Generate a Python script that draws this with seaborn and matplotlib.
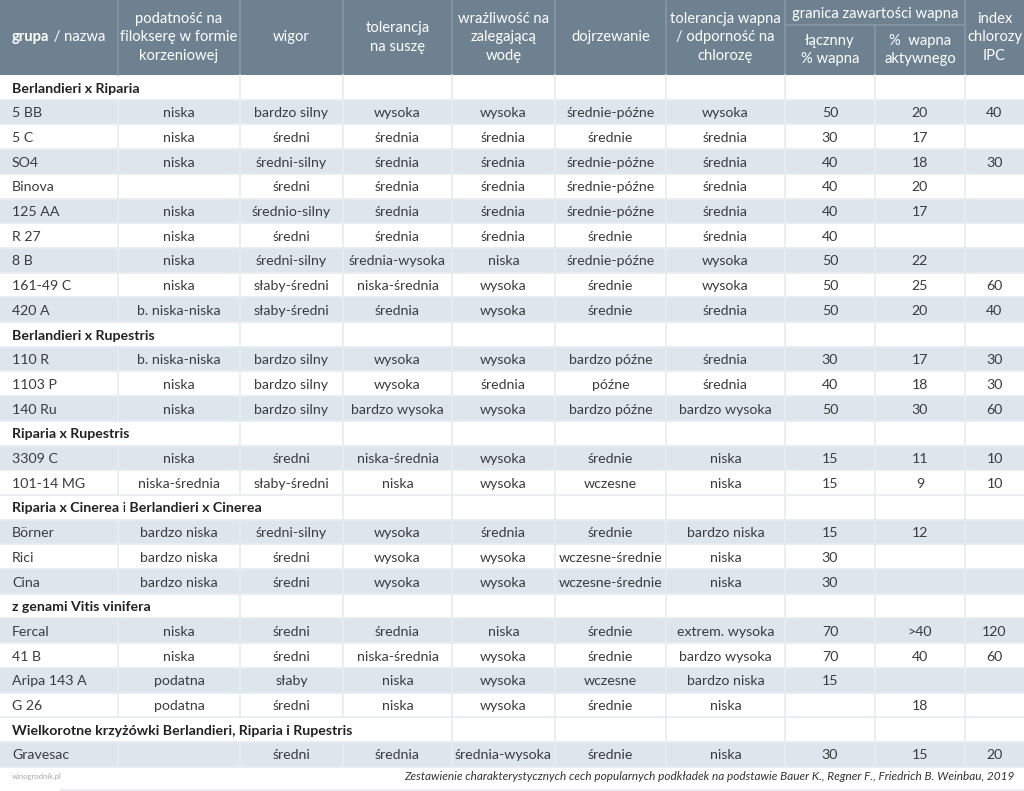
import matplotlib
matplotlib.use("Agg")
import matplotlib.pyplot as plt
import seaborn as sns
import pandas as pd
import numpy as np

# ---------------- data ----------------
header_labels = ["podatność na\nfilokserę w formie\nkorzeniowej", "wigor", "tolerancja\nna suszę",
                 "wrażliwość na\nzalegającą\nwodę", "dojrzewanie", "tolerancja wapna\n/ odporność na\nchlorozę"]
lime_group_label = "granica zawartości wapna"
lime_sub_labels = ["łącznny\n% wapna", "%  wapna\naktywnego"]
ipc_label = "index\nchlorozy\nIPC"

group_names = [
    [("Berlandieri x Riparia", "bold")],
    [("Berlandieri x Rupestris", "bold")],
    [("Riparia x Rupestris", "bold")],
    [("Riparia x Cinerea", "bold"), (" i", "normal"), (" Berlandieri x Cinerea", "bold")],
    [("z genami Vitis vinifera", "bold")],
    [("Wielkorotne krzyżówki Berlandieri, Riparia i Rupestris", "bold")],
]
group_sizes = [9, 3, 2, 3, 4, 1]
group_spans = [2, 2, 2, 3, 2, 4]

rootstocks = ["5 BB", "5 C", "SO4", "Binova", "125 AA", "R 27", "8 B", "161-49 C", "420 A",
              "110 R", "1103 P", "140 Ru",
              "3309 C", "101-14 MG",
              "Börner", "Rici", "Cina",
              "Fercal", "41 B", "Aripa 143 A", "G 26",
              "Gravesac"]
phylloxera = ["niska", "niska", "niska", "", "niska", "niska", "niska", "niska", "b. niska-niska",
              "b. niska-niska", "niska", "niska",
              "niska", "niska-średnia",
              "bardzo niska", "bardzo niska", "bardzo niska",
              "niska", "niska", "podatna", "podatna",
              ""]
vigor = ["bardzo silny", "średni", "średni-silny", "średni", "średnio-silny", "średni", "średni-silny",
         "słaby-średni", "słaby-średni",
         "bardzo silny", "bardzo silny", "bardzo silny",
         "średni", "słaby-średni",
         "średni-silny", "średni", "średni",
         "średni", "średni", "słaby", "średni",
         "średni"]
drought = ["wysoka", "średnia", "średnia", "średnia", "średnia", "średnia", "średnia-wysoka",
           "niska-średnia", "średnia",
           "wysoka", "wysoka", "bardzo wysoka",
           "niska-średnia", "niska",
           "wysoka", "wysoka", "wysoka",
           "średnia", "niska-średnia", "niska", "niska",
           "średnia"]
waterlog = ["wysoka", "średnia", "średnia", "średnia", "średnia", "średnia", "niska", "wysoka", "wysoka",
            "wysoka", "średnia", "wysoka",
            "wysoka", "wysoka",
            "średnia", "wysoka", "wysoka",
            "niska", "wysoka", "wysoka", "wysoka",
            "średnia-wysoka"]
ripening = ["średnie-późne", "średnie", "średnie-późne", "średnie-późne", "średnie-późne", "średnie",
            "średnie-późne", "średnie", "średnie",
            "bardzo późne", "późne", "bardzo późne",
            "średnie", "wczesne",
            "średnie", "wczesne-średnie", "wczesne-średnie",
            "średnie", "średnie", "wczesne", "średnie",
            "średnie"]
lime_tolerance = ["wysoka", "średnia", "średnia", "średnia", "średnia", "średnia", "wysoka", "wysoka",
                  "średnia",
                  "średnia", "średnia", "bardzo wysoka",
                  "niska", "niska",
                  "bardzo niska", "niska", "niska",
                  "extrem. wysoka", "bardzo wysoka", "bardzo niska", "niska",
                  "niska"]
lime_total = ["50", "30", "40", "40", "40", "40", "50", "50", "50",
              "30", "40", "50",
              "15", "15",
              "15", "30", "30",
              "70", "70", "15", "",
              "30"]
lime_active = ["20", "17", "18", "20", "17", "", "22", "25", "20",
               "17", "18", "30",
               "11", "9",
               "12", "", "",
               ">40", "40", "", "18",
               "15"]
ipc = ["40", "", "30", "", "", "", "", "60", "40",
       "30", "30", "60",
       "10", "10",
       "", "", "",
       "120", "60", "", "",
       "20"]

caption = ("Zestawienie charakterystycznych cech popularnych podkładek na podstawie "
           "Bauer K., Regner F., Friedrich B. Weinbau, 2019")
site = "winogrodnik.pl"

# ---------------- build table rows ----------------
cols = [rootstocks, phylloxera, vigor, drought, waterlog, ripening, lime_tolerance,
        lime_total, lime_active, ipc]
rows = []  # (kind, payload, shaded, span)
k = 0
for g, n, sp in zip(group_names, group_sizes, group_spans):
    rows.append(("group", g, False, sp))
    for j in range(n):
        rows.append(("data", [c[k] for c in cols], j % 2 == 0, 0))
        k += 1
n_rows = len(rows)

# ---------------- style ----------------
sns.set_theme(style="white")
plt.rcParams["font.family"] = ["Lato", "DejaVu Sans"]

HEADER = "#6e8191"
HEADER_LINE = "#8797a5"
SHADE = "#dde5ed"
GRID = "#e8ecf1"
TEXT = "#3c3c3c"

W, H = 1024, 791
HEAD_PX = 75
ROW_H = 24.7
fig = plt.figure(figsize=(W / 100, H / 100), dpi=100)
ax = fig.add_axes([0, 0, 1, 1])
edges = [0, 118, 240, 343, 452, 555, 666, 785, 875, 965, 1024]
centers = [(edges[i] + edges[i + 1]) / 2 for i in range(10)]

# row backgrounds via seaborn barplot on a numeric row scale
bg = pd.DataFrame({
    "row": np.arange(n_rows) + 0.5,
    "width": [W] * n_rows,
    "fill": ["shade" if r[2] else "plain" for r in rows],
})
sns.barplot(data=bg, x="width", y="row", hue="fill", orient="h", native_scale=True,
            palette={"shade": SHADE, "plain": "white"}, width=1.0, dodge=False,
            legend=False, saturation=1, ax=ax, linewidth=0)

top = -HEAD_PX / ROW_H
bottom = (H - HEAD_PX) / ROW_H
ax.set_xlim(0, W)
ax.set_ylim(bottom, top)
ax.axis("off")

def py(p):
    """pixel y -> row units"""
    return (p - HEAD_PX) / ROW_H

# header
ax.add_patch(plt.Rectangle((0, top), W, -top, color=HEADER, zorder=2, lw=0))
for e in edges[1:-1]:
    y0 = py(25) if e == 875 else top
    ax.plot([e, e], [y0, 0], color=HEADER_LINE, lw=1.2, zorder=3)
ax.plot([785, 965], [py(25), py(25)], color=HEADER_LINE, lw=1.2, zorder=3)

fs = 10.2
hfs = 10.6
hy = py(37.5)
r = fig.canvas.get_renderer()

def draw_runs(x, y, runs, color, size):
    for s, w in runs:
        t = ax.text(x, y, s, fontweight=w, ha="left", va="center", color=color,
                    fontsize=size, zorder=5)
        bb = t.get_window_extent(renderer=r)
        x = ax.transData.inverted().transform((bb.x1, bb.y0))[0]

draw_runs(12, hy, [("grupa", "bold"), (" / nazwa", "normal")], "white", hfs)
for i, lab in enumerate(header_labels, start=1):
    ax.text(centers[i], hy, lab, ha="center", va="center", color="white", fontsize=hfs,
            linespacing=1.45, zorder=5)
ax.text((785 + 965) / 2, py(14), lime_group_label, ha="center", va="center", color="white",
        fontsize=hfs, zorder=5)
for i, lab in enumerate(lime_sub_labels):
    ax.text(centers[7 + i], py(50), lab, ha="center", va="center", color="white", fontsize=hfs,
            linespacing=1.45, zorder=5)
ax.text(centers[9], hy, ipc_label, ha="center", va="center", color="white", fontsize=hfs,
        linespacing=1.45, zorder=5)

# body grid
for i in range(1, n_rows + 1):
    ax.plot([0, W], [i, i], color=GRID, lw=1.3, zorder=3)
for i, row in enumerate(rows):
    span = row[3]
    for j, e in enumerate(edges[1:-1], start=1):
        if row[0] == "group" and j < span:
            continue
        ax.plot([e, e], [i, i + 1], color=GRID, lw=1.3, zorder=3)

# body text
for i, row in enumerate(rows):
    y = i + 0.55
    if row[0] == "group":
        draw_runs(12, y, row[1], "#222222", fs)
    else:
        vals = row[1]
        ax.text(12, y, vals[0], ha="left", va="center", color=TEXT, fontsize=fs, zorder=5)
        for j in range(1, 10):
            if vals[j]:
                ax.text(centers[j], y, vals[j], ha="center", va="center", color=TEXT,
                        fontsize=fs, zorder=5)

# footer
fy = py(777)
ax.text(12, fy, site, ha="left", va="center", color="#a8a8a8", fontsize=5.5, zorder=5)
ax.text(1015, fy, caption, ha="right", va="center", color="#333333", fontsize=8.5,
        fontstyle="italic", zorder=5)
ax.plot([60, W], [py(789.5), py(789.5)], color=GRID, lw=1.3, zorder=3)

fig.savefig("out.png", dpi=100)
